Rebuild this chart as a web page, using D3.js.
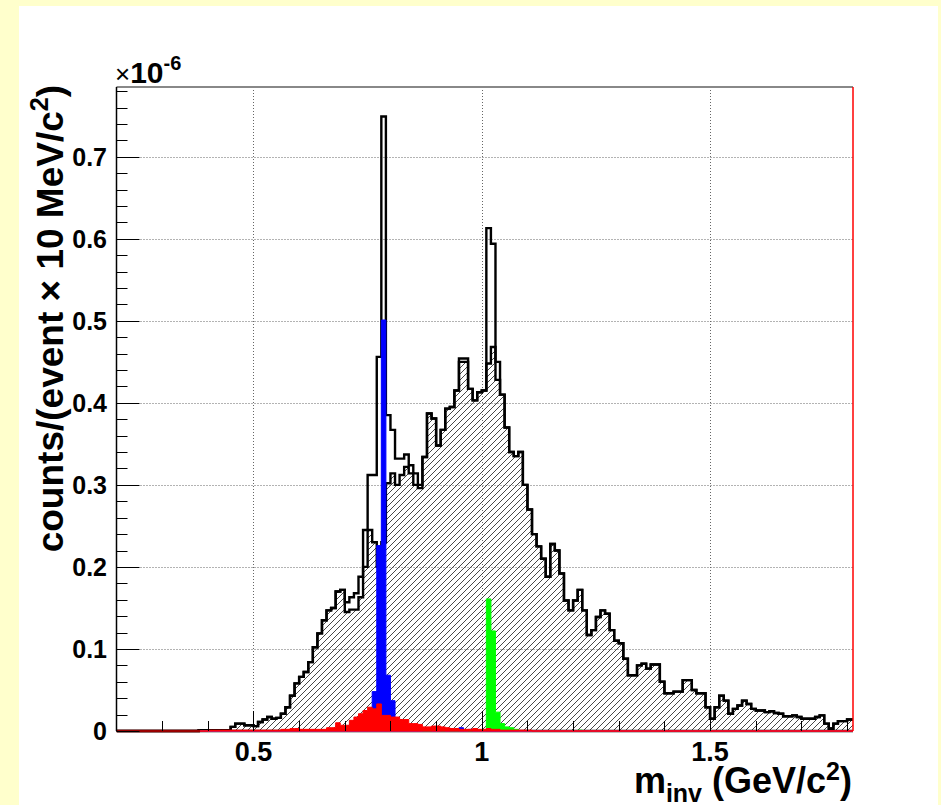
<!DOCTYPE html>
<html><head><meta charset="utf-8">
<script src="https://cdn.jsdelivr.net/npm/d3@7/dist/d3.min.js"></script>
<style>
html,body{margin:0;padding:0;background:#ffffcc;}
svg{display:block;}
text{font-family:"Liberation Sans",Arial,Helvetica,sans-serif;}
</style></head><body>
<svg id="c" width="941" height="805"></svg>
<script>
// ---- data (units of 1e-6 counts per event per 10 MeV/c^2) ----
const binLow = 0.20, binWidth = 0.01;
// total (open black outline)
const total = [
0,0,0,0,0,0,0,0,0,0, 0,0,0,0,0,0,0,0,0.001,0.001,
0.001,0.001,0.001,0.001,0.001,0.005,0.009,0.009,0.007,0.007,
0.006,0.011,0.014,0.017,0.015,0.016,0.021,0.029,0.043,0.058,
0.066,0.072,0.084,0.102,0.119,0.135,0.147,0.150,0.170,0.172,
0.157,0.163,0.168,0.188,0.245,0.312,0.312,0.456,0.749,0.385,
0.367,0.332,0.332,0.337,0.324,0.314,0.300,0.334,0.387,0.381,
0.348,0.367,0.393,0.395,0.415,0.454,0.454,0.417,0.403,0.413,
0.415,0.613,0.594,0.450,0.410,0.370,0.340,0.335,0.340,0.300,
0.270,0.240,0.225,0.210,0.188,0.228,0.220,0.192,0.159,0.147,
0.159,0.172,0.147,0.117,0.123,0.139,0.147,0.143,0.123,0.110,
0.107,0.088,0.068,0.068,0.080,0.082,0.076,0.081,0.081,0.060,
0.046,0.046,0.048,0.048,0.062,0.062,0.050,0.046,0.046,0.029,
0.015,0.029,0.043,0.037,0.021,0.027,0.031,0.037,0.033,0.027,
0.025,0.025,0.023,0.024,0.022,0.021,0.018,0.018,0.019,0.017,
0.015,0.015,0.015,0.017,0.019,0.009,0.003,0.009,0.012,0.012,
0.014,0.014];
// hatched combinatorial part
const hatched = [
0,0,0,0,0,0,0,0,0,0, 0,0,0,0,0,0,0,0,0.001,0.001,
0.001,0.001,0.001,0.001,0.001,0.005,0.009,0.009,0.007,0.007,
0.006,0.011,0.014,0.017,0.015,0.016,0.021,0.029,0.043,0.058,
0.066,0.072,0.084,0.102,0.119,0.135,0.147,0.150,0.170,0.172,
0.145,0.148,0.148,0.163,0.200,0.245,0.230,0.200,0.230,0.302,
0.314,0.300,0.312,0.322,0.314,0.300,0.296,0.334,0.387,0.381,
0.348,0.367,0.393,0.395,0.415,0.450,0.450,0.417,0.403,0.413,
0.415,0.448,0.468,0.428,0.410,0.370,0.340,0.335,0.340,0.300,
0.270,0.240,0.225,0.210,0.188,0.228,0.220,0.192,0.159,0.147,
0.159,0.172,0.147,0.117,0.123,0.139,0.147,0.143,0.123,0.110,
0.107,0.088,0.068,0.068,0.080,0.082,0.076,0.081,0.081,0.060,
0.046,0.046,0.048,0.048,0.062,0.062,0.050,0.046,0.046,0.029,
0.015,0.029,0.043,0.037,0.021,0.027,0.031,0.037,0.033,0.027,
0.025,0.025,0.023,0.024,0.022,0.021,0.018,0.018,0.019,0.017,
0.015,0.015,0.015,0.017,0.019,0.009,0.003,0.009,0.012,0.012,
0.014,0.014];
// blue
const omega = [
0,0,0,0,0,0,0,0,0,0, 0,0,0,0,0,0,0,0,0,0,
0,0,0,0,0,0,0,0,0,0, 0,0,0,0,0,0,0,0,0,0,
0,0,0,0,0,0,0,0,0,0, 0,0,0,0,0,0.004,0.048,0.226,0.501,0.068,
0.037,0.006,0.003,0,0,0,0,0,0,0, 0,0,0.003,0,0,0.004,0,0,0,0,
0,0,0,0,0,0,0,0,0,0, 0,0,0,0,0,0,0,0,0,0,
0,0,0,0,0,0,0,0,0,0, 0,0,0,0,0,0,0,0,0,0,
0,0,0,0,0,0,0,0,0,0, 0,0,0,0,0,0,0,0,0,0,
0,0,0,0,0,0,0,0,0,0, 0,0];
// red
const rho = [
0,0,0,0,0,0,0,0,0,0, 0,0,0,0,0,0,0,0,0,0,
0.001,0.001,0.001,0.001,0.001,0.001,0.001,0.001,0.001,0.001,
0.001,0.001,0.001,0.001,0.001,0.001,0.002,0.002,0.003,0.003,
0.002,0.002,0.002,0.002,0.002,0.002,0.004,0.004,0.010,0.007,
0.007,0.013,0.017,0.021,0.025,0.029,0.027,0.033,0.019,0.019,
0.017,0.017,0.014,0.014,0.009,0.009,0.008,0.005,0.005,0.006,
0.006,0.005,0.004,0.003,0.003,0.002,0.002,0.002,0.003,0.002,
0.002,0.003,0.002,0.002,0.001,0.001,0.001,0.001,0.001,0.001,
0.001,0,0,0,0,0,0,0,0,0, 0,0,0,0,0,0,0,0,0,0,
0,0,0,0,0,0,0,0,0,0, 0,0,0,0,0,0,0,0,0,0,
0,0,0,0,0,0,0,0,0,0, 0,0,0,0,0,0,0,0,0,0,
0,0,0,0,0,0,0,0,0,0, 0,0];
// green
const phi = [
0,0,0,0,0,0,0,0,0,0, 0,0,0,0,0,0,0,0,0,0,
0,0,0,0,0,0,0,0,0,0, 0,0,0,0,0,0,0,0,0,0,
0,0,0,0,0,0,0,0,0,0, 0,0,0,0,0,0,0,0,0,0,
0,0,0,0,0,0,0,0,0,0, 0,0,0,0,0,0,0,0,0,0,
0,0.161,0.122,0.023,0.009,0.005,0.004,0.002,0,0,
0,0,0,0,0,0,0,0,0,0, 0,0.001,0,0,0,0,0,0,0,0,
0,0,0,0,0,0,0,0,0,0, 0,0,0,0,0,0,0,0,0,0,
0,0,0,0,0,0,0,0,0,0, 0,0,0,0,0,0,0,0,0,0,
0,0,0,0,0,0,0,0,0,0, 0,0];
// magenta
const eta = [
0,0,0,0,0,0,0,0,0,0, 0,0,0,0,0,0,0,0,0,0,
0,0,0,0,0,0,0,0,0,0, 0,0,0,0,0,0,0,0,0,0,
0,0,0,0,0,0,0,0,0,0, 0,0,0,0,0,0,0,0,0,0,
0,0,0,0,0,0,0,0.002,0.001,0, 0,0.002,0,0.002,0.001,0,0,0.002,0,0,
0,0,0,0,0,0,0,0,0,0, 0,0,0,0,0,0,0,0,0,0,
0,0,0,0,0,0,0,0,0,0, 0,0,0,0,0,0,0,0,0,0,
0,0,0,0,0,0,0,0,0,0, 0,0,0,0,0,0,0,0,0,0,
0,0,0,0,0,0,0,0,0,0, 0,0,0,0,0,0,0,0,0,0,
0,0];
const xDomain = [0.2, 1.813];
const yDomain = [0, 0.785];
const xMajor = [0.5, 1.0, 1.5];
const xMajorLabels = ["0.5", "1", "1.5"];
const xMinor = [0.3,0.4,0.6,0.7,0.8,0.9,1.1,1.2,1.3,1.4,1.6,1.7,1.8];
const yMajor = [0,0.1,0.2,0.3,0.4,0.5,0.6,0.7];
const yMajorLabels = ["0","0.1","0.2","0.3","0.4","0.5","0.6","0.7"];

// ---- layout ----
const svg = d3.select("#c");
const F = {l:116.5, r:853, t:87, b:731};
const x = d3.scaleLinear().domain(xDomain).range([F.l, F.r]);
const y = d3.scaleLinear().domain(yDomain).range([F.b, F.t]);

svg.append("rect").attr("x",0).attr("y",0).attr("width",941).attr("height",805).attr("fill","#ffffcc");
svg.append("rect").attr("x",19).attr("y",6).attr("width",919).attr("height",799).attr("fill","#ffffff");

const defs = svg.append("defs");
defs.append("clipPath").attr("id","frame").append("rect")
  .attr("x",F.l).attr("y",F.t-2).attr("width",F.r-F.l).attr("height",F.b-F.t+4);
const pat = defs.append("pattern").attr("id","hatch").attr("patternUnits","userSpaceOnUse")
  .attr("width",6).attr("height",6);
pat.append("path").attr("d","M-1,7 L7,-1 M-1,1 L1,-1 M5,7 L7,5")
  .attr("stroke","#333").attr("stroke-width",0.9).attr("fill","none");

// grid
const grid = svg.append("g").attr("stroke","#666").attr("stroke-width",1).attr("stroke-dasharray","1,2");
xMajor.forEach(v=>grid.append("line").attr("x1",Math.round(x(v))+0.5).attr("x2",Math.round(x(v))+0.5).attr("y1",F.t).attr("y2",F.b));
yMajor.filter(v=>v>0).forEach(v=>grid.append("line").attr("x1",F.l).attr("x2",F.r).attr("y1",Math.round(y(v))+0.5).attr("y2",Math.round(y(v))+0.5));

function stepPoints(vals){
  const pts=[[x(binLow), y(0)]];
  vals.forEach((v,i)=>{const lo=binLow+i*binWidth, hi=lo+binWidth; pts.push([x(lo),y(v)],[x(hi),y(v)]);});
  pts.push([x(binLow+vals.length*binWidth), y(0)]);
  return pts;
}
const line = d3.line();
const plot = svg.append("g").attr("clip-path","url(#frame)");

plot.append("path").attr("d",line(stepPoints(hatched))+"Z").attr("fill","url(#hatch)")
  .attr("stroke","#000").attr("stroke-width",2.4).attr("stroke-linejoin","miter");
plot.append("path").attr("d",line(stepPoints(total))).attr("fill","none")
  .attr("stroke","#000").attr("stroke-width",2.4).attr("stroke-linejoin","miter");

function colored(vals, col){
  plot.append("path").attr("d",line(stepPoints(vals))+"Z").attr("fill",col)
    .attr("stroke",col).attr("stroke-width",1);
}
colored(omega,"#0000ff");
colored(phi,"#00ff00");
colored(eta,"#cc00cc");
colored(rho,"#ff0000");
// dark red baseline segment
plot.append("line").attr("x1",x(0.2)).attr("x2",x(0.383)).attr("y1",F.b).attr("y2",F.b)
  .attr("stroke","#990000").attr("stroke-width",2.5);

// frame
svg.append("line").attr("x1",F.l).attr("x2",F.r).attr("y1",F.t).attr("y2",F.t).attr("stroke","#888").attr("stroke-width",2);
svg.append("line").attr("x1",F.r).attr("x2",F.r).attr("y1",F.t).attr("y2",F.b).attr("stroke","#ff0000").attr("stroke-width",1.5);
svg.append("line").attr("x1",F.l).attr("x2",F.l).attr("y1",F.t).attr("y2",F.b).attr("stroke","#000").attr("stroke-width",1.5);

// y axis ticks
const ya = svg.append("g").attr("stroke","#000").attr("stroke-width",1);
yMajor.forEach(v=>ya.append("line").attr("x1",F.l).attr("x2",F.l+23).attr("y1",Math.round(y(v))+0.5).attr("y2",Math.round(y(v))+0.5));
d3.range(0, 0.781, 0.02).forEach(v=>{ if (Math.abs(v*10-Math.round(v*10))>1e-6) ya.append("line").attr("x1",F.l).attr("x2",F.l+11).attr("y1",Math.round(y(v))+0.5).attr("y2",Math.round(y(v))+0.5);});
const xa = svg.append("g").attr("stroke","#000").attr("stroke-width",1);
xMajor.forEach(v=>xa.append("line").attr("x1",Math.round(x(v))+0.5).attr("x2",Math.round(x(v))+0.5).attr("y1",F.b).attr("y2",F.b-20));
xMinor.forEach(v=>xa.append("line").attr("x1",Math.round(x(v))+0.5).attr("x2",Math.round(x(v))+0.5).attr("y1",F.b).attr("y2",F.b-10));

// tick labels
yMajor.forEach((v,i)=>svg.append("text").attr("x",107).attr("y",y(v)+9).attr("text-anchor","end")
  .attr("font-size",25).attr("font-weight","bold").text(yMajorLabels[i]));
xMajor.forEach((v,i)=>svg.append("text").attr("x",x(v)).attr("y",761).attr("text-anchor","middle")
  .attr("font-size",27).attr("font-weight","bold").text(xMajorLabels[i]));

// exponent
const ex = svg.append("text").attr("x",115).attr("y",83).attr("font-size",30);
ex.append("tspan").attr("font-size",26).text("\u00d7");
ex.append("tspan").attr("font-weight","bold").text("10");
ex.append("tspan").attr("font-size",20).attr("font-weight","bold").attr("dy",-13).text("-6");

// axis titles
const xt = svg.append("text").attr("x",852).attr("y",793).attr("text-anchor","end")
  .attr("font-size",36).attr("font-weight","bold");
xt.append("tspan").text("m");
xt.append("tspan").attr("font-size",25).attr("dy",9).text("inv");
xt.append("tspan").attr("dy",-9).text(" (GeV/c");
xt.append("tspan").attr("font-size",25).attr("dy",-13).text("2");
xt.append("tspan").attr("dy",13).text(")");

const yt = svg.append("text").attr("transform","translate(63,85) rotate(-90)").attr("text-anchor","end")
  .attr("font-size",37).attr("font-weight","bold");
yt.append("tspan").text("counts/(event \u00d7 10 MeV/c");
yt.append("tspan").attr("font-size",25).attr("dy",-15).text("2");
yt.append("tspan").attr("dy",15).text(")");
</script>
</body></html>
